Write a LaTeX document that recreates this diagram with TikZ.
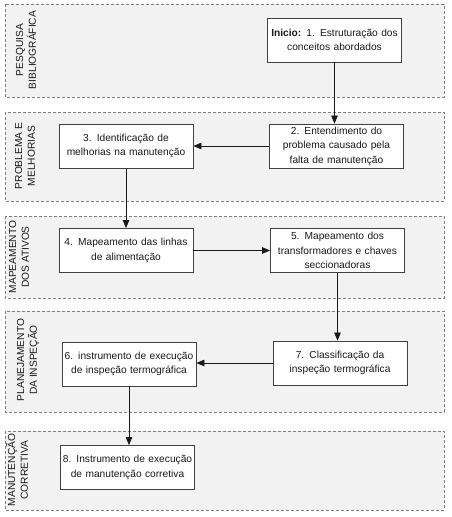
\documentclass[tikz,border=0pt]{standalone}
\usepackage{fontspec}
\setmainfont{Liberation Sans}
\usetikzlibrary{arrows.meta}
\definecolor{lanefill}{HTML}{F2F2F2}
\definecolor{laneborder}{HTML}{7F7F7F}
\definecolor{boxborder}{HTML}{404040}
\definecolor{txt}{HTML}{1A1A1A}
\tikzset{
  lane/.style={draw=laneborder, fill=lanefill, dashed, dash pattern=on 3pt off 2pt, line width=0.7pt},
  lanelabel/.style={rotate=90, align=center, text=txt, inner sep=0pt, font=\fontsize{10.2}{12.8}\selectfont},
  stepbox/.style={draw=boxborder, fill=white, line width=0.8pt, minimum width=134pt, minimum height=44pt, inner sep=0pt, align=center, text width=132pt, text=txt, font=\fontsize{10.2}{14.5}\selectfont},
  flow/.style={draw=black!90, line width=0.7pt, -{Triangle[length=8pt,width=6.5pt]}}
}
\begin{document}
\begin{tikzpicture}[x=1pt,y=-1pt]
\useasboundingbox (0,0) rectangle (452,517);
% lanes
\draw[lane] (5,4) rectangle (444,97);
\draw[lane] (5,112) rectangle (444,201);
\draw[lane] (5,216) rectangle (444,298);
\draw[lane] (5,311) rectangle (444,412);
\draw[lane] (5,431) rectangle (444,510);
% lane labels
\node[lanelabel] (l1) at (26,50) {PESQUISA\\BIBLIOGRÁFICA};
\node[lanelabel] (l2) at (25,156) {PROBLEMA E\\MELHORIAS};
\node[lanelabel] (l3) at (19,257) {MAPEAMENTO\\DOS ATIVOS};
\node[lanelabel] (l4) at (28,360) {PLANEJAMENTO\\DA INSPEÇÃO};
\node[lanelabel] (l5) at (17,470) {MANUTENÇÃO\\CORRETIVA};
% boxes
\node[stepbox] (b1) at (334.5,40) {\textbf{Inicio:} 1. Estruturação dos\\conceitos abordados};
\node[stepbox] (b2) at (336.5,146) {2. Entendimento do\\problema causado pela\\falta de manutenção};
\node[stepbox] (b3) at (126,146) {3. Identificação de\\melhorias na manutenção};
\node[stepbox] (b4) at (126,250.5) {4. Mapeamento das linhas\\de alimentação};
\node[stepbox] (b5) at (337.5,250.5) {5. Mapeamento dos\\transformadores e chaves\\seccionadoras};
\node[stepbox] (b6) at (129,364) {6. instrumento de execução\\de inspeção termográfica};
\node[stepbox] (b7) at (340,363) {7. Classificação da\\inspeção termográfica};
\node[stepbox] (b8) at (127.5,467.5) {8. Instrumento de execução\\de manutenção corretiva};
% connectors
\draw[flow] (b1.south) -- (b1.south |- b2.north);
\draw[flow] (b2.west) -- (b2.west -| b3.east);
\draw[flow] (b3.south) -- (b3.south |- b4.north);
\draw[flow] (b4.east) -- (b4.east -| b5.west);
\draw[flow] (b5.south) -- (b5.south |- b7.north);
\draw[flow] (b7.west) -- (b7.west -| b6.east);
\draw[flow] (b6.south) -- (b6.south |- b8.north);
\end{tikzpicture}
\end{document}
